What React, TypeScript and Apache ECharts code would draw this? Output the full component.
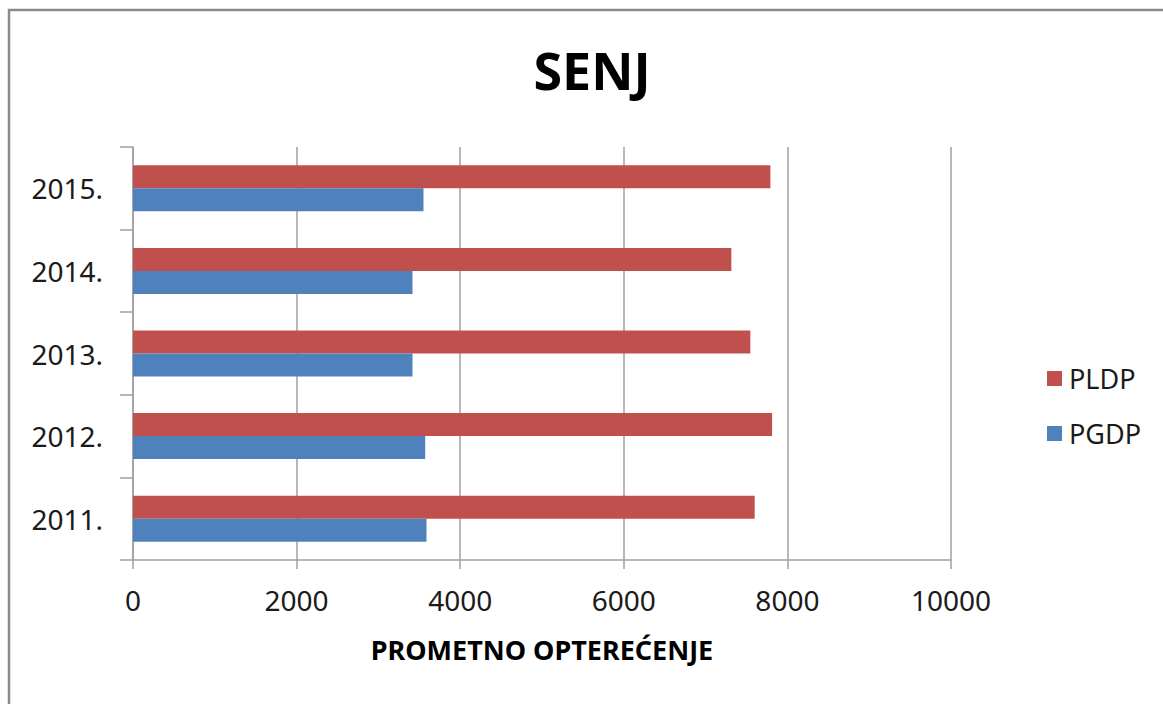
import React, { useEffect, useRef } from "react";
import * as echarts from "echarts";

const categories = ["2011.", "2012.", "2013.", "2014.", "2015."];
const pgdp = [3588, 3572, 3417, 3417, 3551];
const pldp = [7600, 7813, 7547, 7315, 7792];
const chartTitle = "SENJ";
const xAxisName = "PROMETNO OPTEREĆENJE";
const FONT = "'Noto Sans', 'Open Sans', sans-serif";

export default function App() {
  const ref = useRef<HTMLDivElement>(null);
  useEffect(() => {
    document.body.style.margin = "0";
    const chart = echarts.init(ref.current!, null, { renderer: "svg" });
    chart.setOption({
      animation: false,
      backgroundColor: "#ffffff",
      graphic: [
        {
          type: "rect",
          shape: { x: 9, y: 10, width: 1300, height: 900 },
          style: { fill: "none", stroke: "#8a8a8a", lineWidth: 2.5 },
          silent: true,
          z: 100,
        },
      ],
      title: {
        text: chartTitle,
        left: 587,
        top: 38,
        textAlign: "center",
        textStyle: { fontFamily: FONT, fontSize: 52, fontWeight: "bold", color: "#000" },
      },
      legend: {
        orient: "vertical",
        left: 1042,
        top: 360,
        itemGap: 28,
        itemWidth: 15,
        itemHeight: 15,
        icon: "rect",
        data: ["PLDP", "PGDP"],
        textStyle: { fontFamily: FONT, fontSize: 27, color: "#1a1a1a", padding: [0, 0, 0, 2] },
      },
      grid: { left: 133, right: 212, top: 147, bottom: 144, containLabel: false },
      xAxis: {
        type: "value",
        min: 0,
        max: 10000,
        interval: 2000,
        name: xAxisName,
        nameLocation: "middle",
        nameGap: 76,
        nameTextStyle: { fontFamily: FONT, fontSize: 27, fontWeight: "bold", color: "#000" },
        axisLine: { show: true, lineStyle: { color: "#a0a0a0", width: 1.5 } },
        axisTick: { show: true, length: 9, lineStyle: { color: "#a0a0a0", width: 1.5 } },
        axisLabel: {
          fontFamily: FONT,
          fontSize: 28,
          color: "#1a1a1a",
          margin: 26,
          formatter: (v: number) => String(v),
        },
        splitLine: { show: true, lineStyle: { color: "#a0a0a0", width: 1.5 } },
      },
      yAxis: {
        type: "category",
        data: categories,
        axisLine: { show: true, lineStyle: { color: "#a0a0a0", width: 1.5 } },
        axisTick: { show: true, length: 13, lineStyle: { color: "#a0a0a0", width: 1.5 } },
        axisLabel: { fontFamily: FONT, fontSize: 28, color: "#1a1a1a", margin: 30 },
      },
      series: [
        {
          name: "PLDP",
          type: "bar",
          data: pldp,
          barWidth: 23,
          barGap: "0%",
          itemStyle: { color: "#C0504D" },
        },
        {
          name: "PGDP",
          type: "bar",
          data: pgdp,
          barWidth: 23,
          barGap: "0%",
          itemStyle: { color: "#4F81BD" },
        },
      ],
    });
    return () => chart.dispose();
  }, []);
  return <div ref={ref} style={{ width: 1163, height: 704 }} />;
}
